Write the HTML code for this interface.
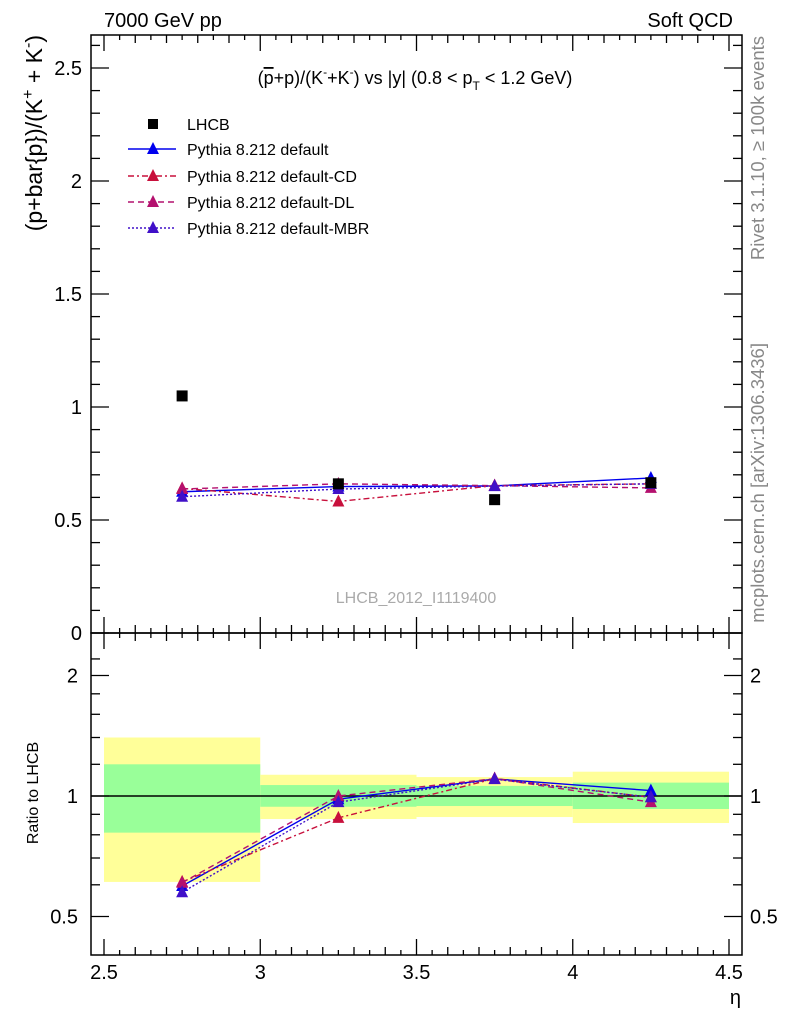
<!DOCTYPE html>
<html><head><meta charset="utf-8"><style>
body{margin:0;background:#fff;}
svg{display:block;font-family:"Liberation Sans",sans-serif;}
</style></head><body>
<svg id="c" width="786" height="1024" viewBox="0 0 786 1024"></svg>
<script>
const xBins=[2.5,3,3.5,4,4.5];
const xCenters=[2.75,3.25,3.75,4.25];
const lhcb=[1.049,0.66,0.59,0.665];
const pyDefault=[0.625,0.648,0.651,0.686];
const pyCD=[0.640,0.582,0.652,0.660];
const pyDL=[0.637,0.660,0.652,0.642];
const pyMBR=[0.603,0.637,0.650,0.660];
const bandYellowHi=[1.40,1.13,1.115,1.15];
const bandYellowLo=[0.61,0.876,0.886,0.856];
const bandGreenHi=[1.20,1.065,1.06,1.08];
const bandGreenLo=[0.81,0.94,0.944,0.928];
const xTicks=[2.5,3,3.5,4,4.5];
const yTicks=[0,0.5,1,1.5,2,2.5];
const rTicks=[0.5,1,2];

const L=91,R=742,T=35,M=633,B=955;
const NS="http://www.w3.org/2000/svg";
const svg=document.getElementById('c');
function X(v){return 104+(v-2.5)*312.5;}
function Y(v){return 633-v*226;}
function RY(v){return 796-120.5*Math.log2(v);}
function el(tag,attrs,parent,text){const e=document.createElementNS(NS,tag);for(const k in attrs)e.setAttribute(k,attrs[k]);if(text!==undefined)e.textContent=text;(parent||svg).appendChild(e);return e;}

for(let i=0;i<4;i++){
 const x0=X(xBins[i]),x1=X(xBins[i+1]);
 const y=el('rect',{x:x0,y:RY(bandYellowHi[i]),width:x1-x0,height:RY(bandYellowLo[i])-RY(bandYellowHi[i]),fill:'#ffff99'});
 
 
 const g=el('rect',{x:x0,y:RY(bandGreenHi[i]),width:x1-x0,height:RY(bandGreenLo[i])-RY(bandGreenHi[i]),fill:'#99ff99'});
 
 
}
el('line',{x1:L,x2:R,y1:RY(1),y2:RY(1),stroke:'#000','stroke-width':1.5});

for(const [t,b,n] of [[T,M,'main-frame'],[M,B,'ratio-frame']]){
 const f=el('rect',{x:L,y:t,width:R-L,height:b-t,fill:'none',stroke:'#000','stroke-width':1.5});
 
 
}
for(const [t,b] of [[T,M],[M,B]]){
 for(let k=0;k<=40;k++){
  const v=2.5+k*0.05, x=X(v);
  const len=(k%10===0)?16:(k%2===0?8:5);
  el('line',{x1:x,x2:x,y1:b,y2:b-len,stroke:'#000','stroke-width':1.3});
  el('line',{x1:x,x2:x,y1:t,y2:t+len,stroke:'#000','stroke-width':1.3});
 }
}
for(let k=0;k<=26;k++){
 const v=k*0.1,y=Y(v); if(y<T)continue;
 const len=(k%5===0)?18:9;
 el('line',{x1:L,x2:L+len,y1:y,y2:y,stroke:'#000','stroke-width':1.3});
 el('line',{x1:R,x2:R-len,y1:y,y2:y,stroke:'#000','stroke-width':1.3});
}
const rMinor=[0.4,0.6,0.7,0.8,0.9,1.2,1.4,1.6,1.8,2.2];
for(const v of rMinor){const y=RY(v);if(y<M||y>B)continue;
 el('line',{x1:L,x2:L+9,y1:y,y2:y,stroke:'#000','stroke-width':1.3});
 el('line',{x1:R,x2:R-9,y1:y,y2:y,stroke:'#000','stroke-width':1.3});}
for(const v of rTicks){const y=RY(v);
 el('line',{x1:L,x2:L+18,y1:y,y2:y,stroke:'#000','stroke-width':1.3});
 el('line',{x1:R,x2:R-18,y1:y,y2:y,stroke:'#000','stroke-width':1.3});
 const t1=el('text',{x:78,y:y+7,'font-size':20,'text-anchor':'end'},svg,String(v));
 
 
 const t2=el('text',{x:750,y:y+7,'font-size':20},svg,String(v));
 
 
}
for(const v of yTicks){
 const t=el('text',{x:82,y:Y(v)+7,'font-size':20,'text-anchor':'end'},svg,String(v));
 
 
}
for(const v of xTicks){
 const t=el('text',{x:X(v),y:979,'font-size':20,'text-anchor':'middle'},svg,String(v));
 
 
}

const series=[
 {vals:pyDefault,color:'#0000ee',dash:'',name:'series-default'},
 {vals:pyCD,color:'#c8103c',dash:'6,3,2,3',name:'series-cd'},
 {vals:pyDL,color:'#b4106e',dash:'6,4',name:'series-dl'},
 {vals:pyMBR,color:'#4010c8',dash:'2,2',name:'series-mbr'}
];
function tri(x,y,c,p,name){
 const t=el('polygon',{points:`${x},${y-7} ${x-6},${y+5} ${x+6},${y+5}`,fill:c},p);
 
 
}
for(const s of series){
 const g=el('g',{});
 
 
 const pts=s.vals.map((v,i)=>X(xCenters[i])+','+Y(v)).join(' ');
 el('polyline',{points:pts,fill:'none',stroke:s.color,'stroke-width':1.4,'stroke-dasharray':s.dash},g);
 const rp=s.vals.map((v,i)=>X(xCenters[i])+','+RY(v/lhcb[i])).join(' ');
 el('polyline',{points:rp,fill:'none',stroke:s.color,'stroke-width':1.4,'stroke-dasharray':s.dash},g);
 s.vals.forEach((v,i)=>{tri(X(xCenters[i]),Y(v),s.color,g,'model-point');tri(X(xCenters[i]),RY(v/lhcb[i]),s.color,g,'ratio-point');});
}
lhcb.forEach((v,i)=>{
 const r=el('rect',{x:X(xCenters[i])-5.5,y:Y(v)-5.5,width:11,height:11,fill:'#000'});
 
 
});

const leg=[['LHCB','#000','','sq'],['Pythia 8.212 default','#0000ee','',''],['Pythia 8.212 default-CD','#c8103c','6,3,2,3',''],['Pythia 8.212 default-DL','#b4106e','6,4',''],['Pythia 8.212 default-MBR','#4010c8','2,2','']];
const ly=[124,149,176,202,228];
leg.forEach((e,i)=>{
 const g=el('g',{});
 
 
 if(e[3]==='sq'){el('rect',{x:148,y:ly[i]-5,width:10,height:10,fill:'#000'},g);}
 else{el('line',{x1:128,x2:176,y1:ly[i],y2:ly[i],stroke:e[1],'stroke-width':1.4,'stroke-dasharray':e[2]},g);tri(153,ly[i],e[1],g,'legend-marker');}
 el('text',{x:187,y:ly[i]+6,'font-size':16},g,e[0]);
});

function txt(x,y,s,size,name,extra){const t=el('text',Object.assign({x:x,y:y,'font-size':size},extra||{}),svg,s);return t;}
txt(104,27,'7000 GeV pp',20,'header-left');
txt(733,27,'Soft QCD',20,'header-right',{'text-anchor':'end'});
const title=el('text',{x:415,y:84,'font-size':18,'text-anchor':'middle'});


title.innerHTML='(<tspan text-decoration="overline">p</tspan>+p)/(K<tspan dy="-8" font-size="12">-</tspan><tspan dy="8">+K</tspan><tspan dy="-8" font-size="12">-</tspan><tspan dy="8">) vs |y| (0.8 &lt; p</tspan><tspan dy="6" font-size="12">T</tspan><tspan dy="-6"> &lt; 1.2 GeV)</tspan>';
const yl=el('text',{x:0,y:0,'font-size':23,'text-anchor':'end',transform:'translate(42,35) rotate(-90)'});


yl.innerHTML='(p+bar{p})/(K<tspan dy="-9" font-size="16">+</tspan><tspan dy="9"> + K</tspan><tspan dy="-9" font-size="16">-</tspan><tspan dy="9">)</tspan>';
txt(0,0,'Ratio to LHCB',16,'ratio-y-axis-title',{'text-anchor':'middle',transform:'translate(38,793) rotate(-90)'});
txt(741,1004,'η',20,'x-axis-title',{'text-anchor':'end'});
txt(416,603,'LHCB_2012_I1119400',16,'analysis-id',{'text-anchor':'middle',fill:'#aaa'});
txt(0,0,'Rivet 3.1.10, ≥ 100k events',18.5,'rivet-label',{'text-anchor':'end',fill:'#888',transform:'translate(764,36) rotate(-90)'});
txt(0,0,'mcplots.cern.ch [arXiv:1306.3436]',18.5,'mcplots-label',{'text-anchor':'end',fill:'#888',transform:'translate(764,343) rotate(-90)'});
</script>
</body></html>
